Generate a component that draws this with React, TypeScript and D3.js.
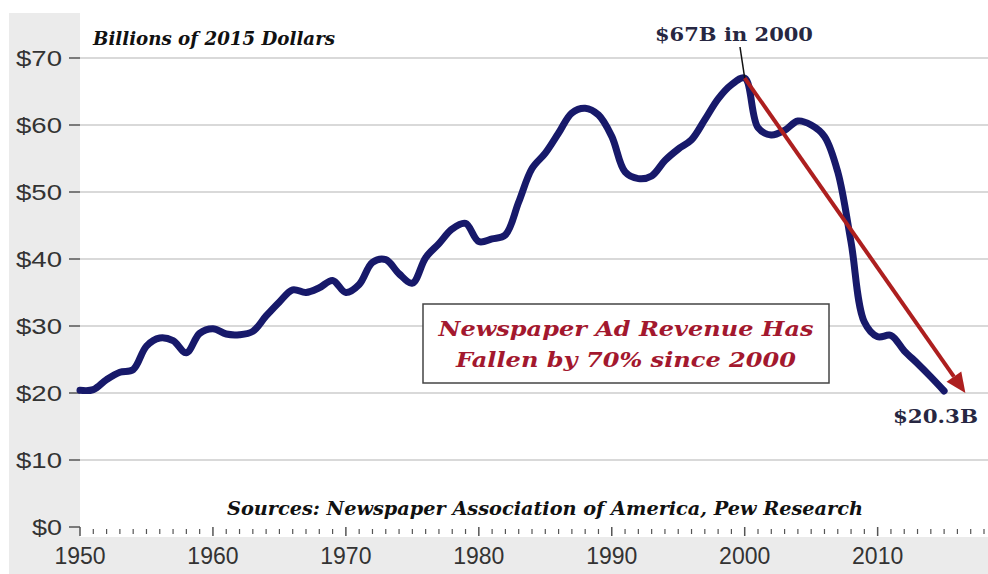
import React from 'react';
import * as d3 from 'd3';

// Newspaper ad revenue, billions of 2015 dollars
const years = [
  1950, 1951, 1952, 1953, 1954, 1955, 1956, 1957, 1958, 1959,
  1960, 1961, 1962, 1963, 1964, 1965, 1966, 1967, 1968, 1969,
  1970, 1971, 1972, 1973, 1974, 1975, 1976, 1977, 1978, 1979,
  1980, 1981, 1982, 1983, 1984, 1985, 1986, 1987, 1988, 1989,
  1990, 1991, 1992, 1993, 1994, 1995, 1996, 1997, 1998, 1999,
  2000, 2001, 2002, 2003, 2004, 2005, 2006, 2007, 2008, 2009,
  2010, 2011, 2012, 2013, 2014, 2015,
];
const revenue = [
  20.4, 20.5, 22.0, 23.1, 23.5, 27.0, 28.2, 27.8, 26.0, 28.9,
  29.6, 28.8, 28.7, 29.2, 31.5, 33.6, 35.4, 35.0, 35.7, 36.8,
  35.0, 36.2, 39.5, 39.9, 37.8, 36.4, 40.2, 42.3, 44.5, 45.3,
  42.6, 43.0, 43.6, 48.5, 53.5, 55.8, 58.8, 61.8, 62.5, 61.5,
  58.3, 53.0, 52.0, 52.4, 54.7, 56.4, 57.8, 60.8, 63.9, 66.0,
  67.0, 59.6, 58.5, 59.2, 60.6, 60.0, 58.3, 53.0, 42.5, 30.6,
  28.4, 28.6, 26.3, 24.4, 22.4, 20.3,
];

const yTicks = [0, 10, 20, 30, 40, 50, 60, 70];
const xLabelYears = [1950, 1960, 1970, 1980, 1990, 2000, 2010];
const xAxisFirst = 1950;
const xAxisLast = 2018;

const peakYear = 2000;
const peakValue = 67;
const latestValue = 20.3;
const trendEndYear = 2016.6;
const trendEndValue = 20.0;

const W = 988;
const H = 574;
const plotLeft = 80;
const plotRight = 984;
const plotTop = 58;
const plotBottom = 527;

const NAVY = '#17196a';
const RED = '#ad1f1f';
const TEXT_RED = '#a3182e';
const SERIF = "'DejaVu Serif', 'Liberation Serif', Georgia, serif";
const SANS = "'Liberation Sans', Arial, Helvetica, sans-serif";

export default function App() {
  const x = d3.scaleLinear().domain([xAxisFirst, xAxisLast]).range([plotLeft, plotRight]);
  const y = d3.scaleLinear().domain([0, 70]).range([plotBottom, plotTop]);

  const points: [number, number][] = years.map((yr, i) => [yr, revenue[i]]);
  const line = d3
    .line<[number, number]>()
    .x((d) => x(d[0]))
    .y((d) => y(d[1]))
    .curve(d3.curveCatmullRom.alpha(0.5));

  const yearTicks = d3.range(xAxisFirst, xAxisLast + 1);

  // trend arrow from the 2000 peak down to the latest level
  const ax0 = x(peakYear);
  const ay0 = y(peakValue);
  const ax1 = x(trendEndYear);
  const ay1 = y(trendEndValue);
  const dx = ax1 - ax0;
  const dy = ay1 - ay0;
  const len = Math.hypot(dx, dy);
  const ux = dx / len;
  const uy = dy / len;
  const headLen = 20;
  const headHalf = 9;
  const bx = ax1 - ux * headLen;
  const by = ay1 - uy * headLen;
  const head = [
    [ax1, ay1],
    [bx - uy * headHalf, by + ux * headHalf],
    [bx + uy * headHalf, by - ux * headHalf],
  ]
    .map((p) => p.join(','))
    .join(' ');

  return (
    <svg
      width={W}
      height={H}
      viewBox={`0 0 ${W} ${H}`}
      style={{ position: 'absolute', left: 0, top: 0, background: '#ffffff' }}
    >
      {/* frame and plot background */}
      <rect x={9} y={13} width={W - 9} height={H - 13} fill="#ebebeb" />
      <rect x={plotLeft} y={0} width={W - plotLeft} height={537} fill="#ffffff" />

      {/* horizontal gridlines */}
      {yTicks
        .filter((t) => t > 0)
        .map((t) => (
          <line
            key={`g${t}`}
            x1={plotLeft}
            x2={W}
            y1={y(t)}
            y2={y(t)}
            stroke="#d9d9d9"
            strokeWidth={2}
          />
        ))}

      {/* y axis ticks and labels */}
      {yTicks.map((t) => (
        <g key={`y${t}`}>
          <line x1={69} x2={plotLeft} y1={y(t)} y2={y(t)} stroke="#555" strokeWidth={1.5} />
          <text
            x={62}
            y={y(t) + 8}
            textAnchor="end"
            fontFamily={SANS}
            fontSize={22}
            fill="#333"
            textLength={t === 0 ? 30 : 46}
            lengthAdjust="spacingAndGlyphs"
          >
            {`$${t}`}
          </text>
        </g>
      ))}

      {/* x axis ticks, one per year, longer at each decade */}
      {yearTicks.map((yr) => {
        const major = yr % 10 === 0;
        return (
          <line
            key={`t${yr}`}
            x1={x(yr)}
            x2={x(yr)}
            y1={major ? plotBottom : plotBottom + 2}
            y2={major ? plotBottom + 9 : plotBottom + 7}
            stroke="#555"
            strokeWidth={major ? 1.5 : 1.2}
          />
        );
      })}
      {xLabelYears.map((yr) => (
        <text
          key={`x${yr}`}
          x={x(yr)}
          y={564}
          textAnchor="middle"
          fontFamily={SANS}
          fontSize={23}
          fill="#333"
        >
          {yr}
        </text>
      ))}

      {/* unit note */}
      <text
        x={93}
        y={45}
        fontFamily={SERIF}
        fontStyle="italic"
        fontWeight="bold"
        fontSize={18}
        fill="#111"
        textLength={242}
        lengthAdjust="spacingAndGlyphs"
      >
        Billions of 2015 Dollars
      </text>

      {/* source note */}
      <text
        x={227}
        y={515}
        fontFamily={SERIF}
        fontStyle="italic"
        fontWeight="bold"
        fontSize={18}
        fill="#111"
        textLength={636}
        lengthAdjust="spacingAndGlyphs"
      >
        Sources: Newspaper Association of America, Pew Research
      </text>

      {/* revenue line */}
      <path
        d={line(points) ?? ''}
        fill="none"
        stroke={NAVY}
        strokeWidth={7}
        strokeLinejoin="round"
        strokeLinecap="round"
      />

      {/* peak callout */}
      <line x1={740} y1={47} x2={ax0} y2={ay0} stroke="#111" strokeWidth={1.5} />
      <text
        x={734}
        y={41}
        textAnchor="middle"
        fontFamily={SERIF}
        fontWeight="bold"
        fontSize={19}
        fill="#272742"
        textLength={158}
        lengthAdjust="spacingAndGlyphs"
      >
        {`$${peakValue}B in ${peakYear}`}
      </text>

      {/* trend arrow */}
      <line x1={ax0} y1={ay0} x2={bx} y2={by} stroke={RED} strokeWidth={4} />
      <polygon points={head} fill={RED} />

      {/* latest value callout */}
      <text
        x={978}
        y={423}
        textAnchor="end"
        fontFamily={SERIF}
        fontWeight="bold"
        fontSize={19}
        fill="#272742"
        textLength={85}
        lengthAdjust="spacingAndGlyphs"
      >
        {`$${latestValue}B`}
      </text>

      {/* headline box */}
      <rect x={423} y={304} width={406} height={79} fill="#ffffff" stroke="#444" strokeWidth={1.5} />
      <text
        x={626}
        y={336}
        textAnchor="middle"
        fontFamily={SERIF}
        fontStyle="italic"
        fontWeight="bold"
        fontSize={21}
        fill={TEXT_RED}
        textLength={375}
        lengthAdjust="spacingAndGlyphs"
      >
        Newspaper Ad Revenue Has
      </text>
      <text
        x={626}
        y={367}
        textAnchor="middle"
        fontFamily={SERIF}
        fontStyle="italic"
        fontWeight="bold"
        fontSize={21}
        fill={TEXT_RED}
        textLength={340}
        lengthAdjust="spacingAndGlyphs"
      >
        Fallen by 70% since 2000
      </text>
    </svg>
  );
}
